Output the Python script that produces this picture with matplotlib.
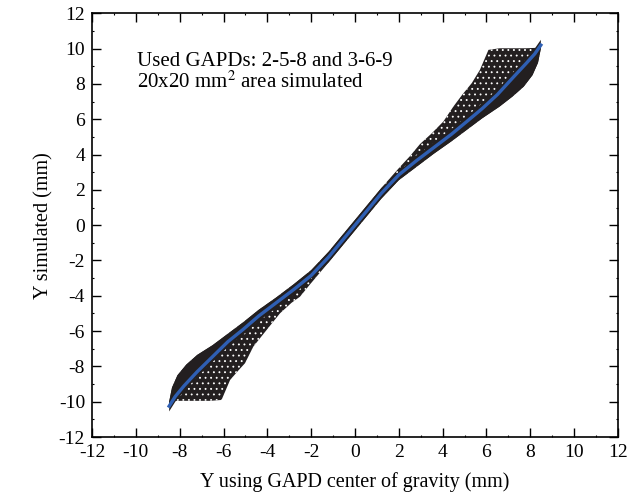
import matplotlib
matplotlib.use('Agg')
import numpy as np
import matplotlib.pyplot as plt

# blue fitted curve
blue_x = [-8.48, -8.2, -7.8, -7.2, -6.5, -5.8, -5.1, -4.4, -3.6, -2.8, -2.0, -1.2, -0.5, 0.0,
          0.5, 1.2, 2.0, 2.8, 3.6, 4.4, 5.1, 5.8, 6.5, 7.2, 7.8, 8.2, 8.48]
blue_y = [-10.25, -9.7, -9.1, -8.3, -7.45, -6.6, -5.9, -5.15, -4.4, -3.65, -2.85, -1.8, -0.75, 0.0,
          0.75, 1.8, 2.85, 3.65, 4.4, 5.15, 5.87, 6.6, 7.4, 8.35, 9.15, 9.7, 10.2]

# dense lens below the curve (right) and above the curve (left)
lens_r_x = [2.0, 2.8, 3.6, 4.4, 5.1, 5.8, 6.6, 7.2, 7.7, 8.1, 8.35, 8.48]
lens_r_y = [2.55, 3.3, 4.05, 4.75, 5.4, 6.05, 6.72, 7.3, 7.85, 8.5, 9.2, 10.0]
lens_l_x = [-8.48, -8.35, -8.1, -7.7, -7.2, -6.5, -5.8, -5.1, -4.4, -3.6, -2.8, -2.0]
lens_l_y = [-10.0, -9.2, -8.5, -7.9, -7.35, -6.8, -6.15, -5.5, -4.8, -4.1, -3.35, -2.55]

# outer edge of the sparse part of the cloud
sp_r_x = [2.05, 2.5, 2.97, 3.5, 4.03, 4.49, 4.9, 5.33, 5.7, 6.09, 6.6, 7.2, 7.8, 8.37]
sp_r_y = [3.3, 3.9, 4.6, 5.2, 5.87, 6.72, 7.4, 8.05, 8.8, 9.93, 10.02, 10.02, 10.02, 10.05]
sp_l_x = [-8.3, -7.8, -7.2, -6.6, -6.09, -5.7, -5.3, -5.02, -4.64, -4.03, -3.42, -2.9, -2.51, -2.05]
sp_l_y = [-9.95, -9.95, -9.95, -9.95, -9.9, -8.77, -8.2, -7.82, -6.88, -5.93, -4.99, -4.4, -4.05, -3.35]

# thin band in the middle
cen_x = [-2.0, -1.2, -0.5, 0.0, 0.5, 1.2, 2.0]
cen_hi = [-2.55, -1.5, -0.45, 0.3, 1.05, 2.1, 3.3]
cen_lo = [-3.35, -2.1, -1.05, -0.3, 0.45, 1.5, 2.55]

ticks = list(range(-12, 13, 2))

plt.rcParams['font.family'] = 'Liberation Serif'
plt.rcParams['mathtext.fontset'] = 'stix'
plt.rcParams['axes.unicode_minus'] = False
plt.rcParams['hatch.linewidth'] = 0.6

fig = plt.figure(figsize=(6.43, 5.01), dpi=100)
ax = fig.add_axes([0.1431, 0.1277, 0.8180, 0.8457])

dot = '#231f20'

# whole cloud, speckled
cx = lens_l_x + cen_x[1:-1] + sp_r_x + [8.48] + lens_r_x[::-1] + cen_x[-2:0:-1] + sp_l_x[::-1] + [-8.48]
cy = lens_l_y + cen_hi[1:-1] + sp_r_y + [10.2] + lens_r_y[::-1] + cen_lo[-2:0:-1] + sp_l_y[::-1] + [-10.25]
ax.fill(cx, cy, facecolor=dot, edgecolor='white', hatch='...', linewidth=0, zorder=2)

# solid part of the cloud
bx = np.array(blue_x)
by = np.array(blue_y)
r = bx > 2.0
l = bx < -2.0
dx = lens_l_x + cen_x[1:-1] + list(bx[r]) + lens_r_x[::-1] + cen_x[-2:0:-1] + list(bx[l][::-1])
dy = lens_l_y + cen_hi[1:-1] + list(by[r] + 0.3) + lens_r_y[::-1] + cen_lo[-2:0:-1] + list(by[l][::-1] - 0.3)
ax.fill(dx, dy, color=dot, linewidth=0, zorder=3)

ax.plot(blue_x, blue_y, color='#2f5fb3', lw=2.4, zorder=4)

ax.set_xlim(-12, 12)
ax.set_ylim(-12, 12)
ax.set_xticks(ticks)
ax.set_yticks(ticks)
ax.set_xticks(range(-11, 12, 2), minor=True)
ax.set_yticks(range(-11, 12, 2), minor=True)
ax.tick_params(which='major', direction='in', length=6.5, width=1, top=True, right=True,
               labelsize=14, pad=5)
ax.tick_params(which='minor', direction='in', length=1.5, width=0.8, top=True, right=True)
for s in ax.spines.values():
    s.set_linewidth(1.2)

ax.set_xlabel('Y using GAPD center of gravity (mm)', fontsize=14.5, labelpad=8)
ax.set_ylabel('Y simulated (mm)', fontsize=14.5, labelpad=4)

ax.text(-9.94, 8.99, 'Used GAPDs: 2-5-8 and 3-6-9', fontsize=15, va='baseline')
ax.text(-9.94, 7.76, '20x20 mm$^2$ area simulated', fontsize=15, va='baseline')

fig.savefig('out.png', dpi=100)
